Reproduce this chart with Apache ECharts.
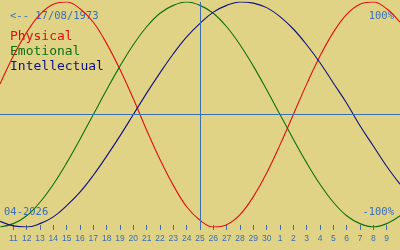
<!DOCTYPE html>
<html><head><meta charset="utf-8">
<script src="https://cdn.jsdelivr.net/npm/echarts@6/dist/echarts.min.js"></script>
<style>html,body{margin:0;padding:0;background:#E0D386;}#c{width:400px;height:250px;}</style>
</head><body><div id="c"></div>
<script>
// Days from 10 April 2026 to 10 May 2026
const days = ["10","11","12","13","14","15","16","17","18","19","20","21","22","23","24","25","26","27","28","29","30","1","2","3","4","5","6","7","8","9","10"];
const physical = [0.27,0.52,0.73,0.89,0.98,1.00,0.94,0.82,0.63,0.40,0.14,-0.14,-0.40,-0.63,-0.82,-0.94,-1.00,-0.98,-0.89,-0.73,-0.52,-0.27,0.00,0.27,0.52,0.73,0.89,0.98,1.00,0.94,0.82];
const emotional = [-1.00,-0.97,-0.90,-0.78,-0.62,-0.43,-0.22,0.00,0.22,0.43,0.62,0.78,0.90,0.97,1.00,0.97,0.90,0.78,0.62,0.43,0.22,0.00,-0.22,-0.43,-0.62,-0.78,-0.90,-0.97,-1.00,-0.97,-0.90];
const intellectual = [-0.95,-0.99,-1.00,-0.97,-0.91,-0.81,-0.69,-0.54,-0.37,-0.19,0.00,0.19,0.37,0.54,0.69,0.81,0.91,0.97,1.00,0.99,0.95,0.87,0.76,0.62,0.46,0.28,0.10,-0.10,-0.28,-0.46,-0.62];
const todayIndex = 15;
const mono = "DejaVu Sans Mono";
const blue = "#3A6EB5";
const chart = echarts.init(document.getElementById('c'));
const show = (i) => i > 0 && i < days.length - 1;
chart.setOption({
  backgroundColor: "#E0D386",
  animation: false,
  grid: {left: 0, right: 0, top: 2, bottom: 23},
  xAxis: {
    type: 'category', data: days, boundaryGap: false, offset: -2,
    axisLine: {show: false, onZero: false},
    axisTick: {show: true, length: 5, interval: show, alignWithLabel: true, lineStyle: {color: blue, width: 1}},
    axisLabel: {interval: show, margin: 9, color: blue, fontFamily: "Liberation Sans", fontSize: 8.5},
    splitLine: {show: false}
  },
  yAxis: {type: 'value', min: -1, max: 1, show: false},
  graphic: [
    {type: 'text', left: 10, top: 11, style: {text: "<-- 17/08/1973", fill: blue, font: "10.5px " + mono}},
    {type: 'text', left: 10, top: 30, style: {text: "Physical", fill: "#E01010", font: "13px " + mono}},
    {type: 'text', left: 10, top: 45, style: {text: "Emotional", fill: "#107010", font: "13px " + mono}},
    {type: 'text', left: 10, top: 60, style: {text: "Intellectual", fill: "#101080", font: "13px " + mono}},
    {type: 'text', right: 6, top: 11, style: {text: "100%", fill: blue, font: "10.5px " + mono}},
    {type: 'text', right: 6, top: 207, style: {text: "-100%", fill: blue, font: "10.5px " + mono}},
    {type: 'text', left: 4, top: 207, style: {text: "04-2026", fill: blue, font: "10.5px " + mono}}
  ],
  series: [
    {name: 'Physical', type: 'line', data: physical, smooth: 0.4, symbol: 'none', lineStyle: {color: "#E01010", width: 1.1},
     markLine: {silent: true, symbol: 'none', label: {show: false}, lineStyle: {color: blue, width: 1, type: 'solid'},
       data: [{xAxis: todayIndex}, {yAxis: 0}]}},
    {name: 'Emotional', type: 'line', data: emotional, smooth: 0.4, symbol: 'none', lineStyle: {color: "#107010", width: 1.1}},
    {name: 'Intellectual', type: 'line', data: intellectual, smooth: 0.4, symbol: 'none', lineStyle: {color: "#101080", width: 1.1}}
  ]
});
</script></body></html>
